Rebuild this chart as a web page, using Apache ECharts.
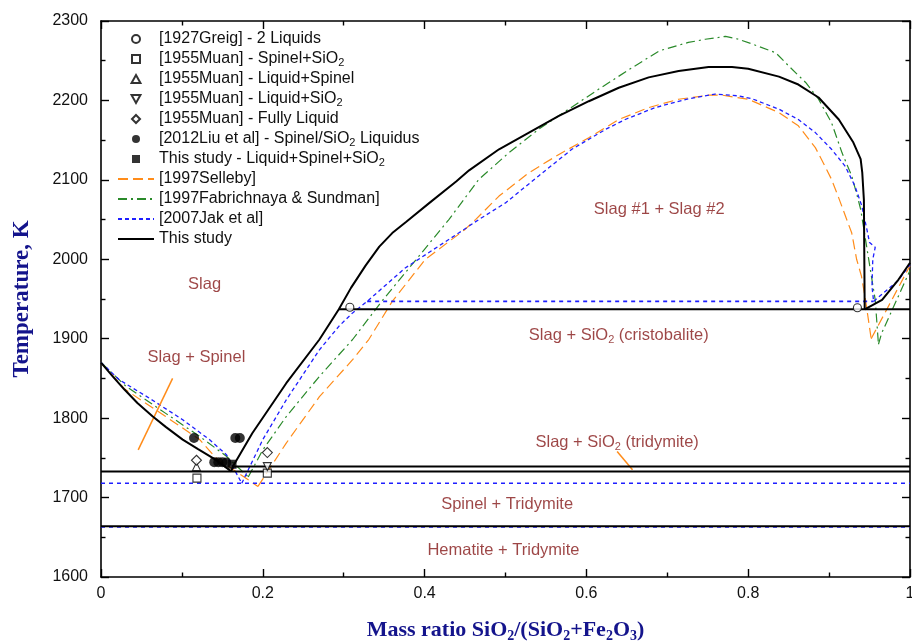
<!DOCTYPE html>
<html>
<head>
<meta charset="utf-8">
<script src="https://cdn.jsdelivr.net/npm/echarts@6/dist/echarts.min.js"></script>
<style>
  html, body { margin: 0; padding: 0; background: #fff; }
  #chart { width: 912px; height: 642px; }
</style>
</head>
<body>
<div id="chart"></div>
<script>
// Fe2O3–SiO2 phase diagram: calculated boundaries from several assessments plus experimental points.

// ---- This study (solid black) ----
const thisStudySpinelLiquidus = [[0,1870],[0.015,1852],[0.029,1836],[0.045,1819],[0.064,1802],[0.08,1789],[0.101,1773],[0.12,1761],[0.142,1747.5],[0.161,1733]];
const thisStudySilicaLiquidusGap = [[0.161,1733],[0.163,1739],[0.187,1781],[0.229,1844],[0.27,1899],[0.294,1937],[0.309,1964],[0.327,1992],[0.344,2016],[0.36,2033],[0.377,2047],[0.406,2071],[0.439,2098],[0.455,2112],[0.492,2138.5],[0.529,2159.5],[0.566,2180.5],[0.603,2199],[0.64,2216],[0.677,2229],[0.714,2237],[0.751,2242],[0.78,2242],[0.80,2240],[0.838,2230],[0.862,2220],[0.887,2203.7],[0.912,2176],[0.93,2147],[0.939,2126],[0.941,2109],[0.943,2075],[0.944,1937]];
const thisStudyCristobaliteLiquidus = [[0.944,1937],[0.9655,1949],[0.9858,1974.5],[1.0,1995.6]];
const thisStudyEutectic = [[0,1732.8],[1,1732.8]];
const thisStudyTridymiteLine = [[0.163,1739],[1,1739]];
const thisStudyMonotectic = [[0.294,1937],[1,1937]];
const thisStudyHematiteLine = [[0,1664],[1,1664]];

// ---- [2007Jak et al] (blue short dash) ----
const jakSpinelLiquidus = [[0,1870],[0.023,1848],[0.06,1825],[0.101,1798],[0.134,1773],[0.155,1754],[0.174,1718]];
const jakSilicaLiquidusGap = [[0.174,1718],[0.2,1773],[0.229,1823],[0.27,1886],[0.294,1915.6],[0.311,1932.5],[0.329,1947],[0.376,1989],[0.442,2033],[0.467,2050],[0.5,2071],[0.541,2105],[0.582,2138.5],[0.624,2163.7],[0.648,2176],[0.685,2191],[0.726,2202],[0.759,2208],[0.788,2205.7],[0.805,2202],[0.838,2189],[0.862,2176],[0.883,2159.5],[0.903,2138.5],[0.92,2117],[0.932,2092],[0.9405,2067],[0.9467,2037.6],[0.95,2021],[0.957,2015],[0.954,2000],[0.953,1966],[0.955,1947]];
const jakCristobaliteLiquidus = [[0.955,1947],[0.985,1973],[1.0,1993]];
const jakMonotectic = [[0.329,1947],[0.955,1947]];
const jakEutectic = [[0,1718],[1,1718]];
const jakHematiteLine = [[0,1663],[1,1663]];

// ---- [1997Fabrichnaya & Sundman] (green dash-dot) ----
const fabSpinelLiquidus = [[0,1870],[0.031,1840],[0.08,1806],[0.122,1777],[0.155,1752],[0.182,1726]];
const fabSilicaLiquidusGap = [[0.182,1726],[0.2,1760],[0.229,1802],[0.27,1852.6],[0.296,1882],[0.311,1899],[0.347,1947],[0.393,2004],[0.43,2050],[0.467,2100.6],[0.504,2134],[0.541,2163.7],[0.578,2189],[0.615,2214],[0.653,2239],[0.69,2262.4],[0.726,2273],[0.747,2277],[0.772,2280.6],[0.788,2277],[0.805,2271],[0.834,2260],[0.85,2243.5],[0.871,2222.6],[0.887,2201.5],[0.903,2172],[0.916,2134],[0.928,2105],[0.936,2075],[0.939,2063],[0.957,1949],[0.961,1893]];
const fabCristobaliteLiquidus = [[0.961,1893],[0.965,1907],[1.0,1986]];

// ---- [1997Selleby] (orange long dash) ----
const sellebySpinelLiquidus = [[0,1870],[0.03,1836],[0.08,1802],[0.122,1773],[0.142,1750],[0.194,1714]];
const sellebySilicaLiquidusGap = [[0.194,1714],[0.229,1768.6],[0.27,1827],[0.311,1873.6],[0.331,1899],[0.36,1947],[0.401,2000],[0.45,2037.6],[0.463,2050],[0.492,2079.6],[0.529,2109],[0.566,2132],[0.603,2153],[0.64,2176],[0.677,2191],[0.714,2201.5],[0.751,2206.6],[0.768,2206.6],[0.8,2201.5],[0.838,2184.7],[0.862,2168],[0.883,2140.6],[0.895,2117],[0.903,2100.6],[0.912,2077],[0.928,2033],[0.934,2000],[0.94,1978.7],[0.945,1949],[0.952,1900]];
const sellebyCristobaliteLiquidus = [[0.952,1900],[0.969,1932.5],[1.0,1992]];

// ---- Experimental points ----
const greig2Liquids = [[0.3076,1939.6],[0.935,1939]];
const muanSpinelSilica = [[0.1186,1724.5],[0.2056,1730.8]];
const muanLiquidSpinel = [[0.118,1739]];
const muanLiquidSilica = [[0.2056,1739]];
const muanFullyLiquid = [[0.118,1747],[0.2056,1756.7]];
const liuLiquidus = [[0.115,1775],[0.166,1775],[0.1716,1775],[0.14,1744.6],[0.145,1744.6],[0.15,1744.6],[0.155,1744]];
const thisStudyThreePhase = [[0.162,1742]];

// ---- Leader lines from region labels ----
const spinelLeader = [[0.046,1760],[0.0885,1850]];
const tridymiteLeader = [[0.638,1758],[0.657,1735]];

// ---- Region labels ----
const regionLabels = [
  { name: 'Slag', value: [0.128, 1968] },
  { name: 'Slag + Spinel', value: [0.118, 1876] },
  { name: 'Slag #1 + Slag #2', value: [0.69, 2063] },
  { name: 'Slag + SiO2 (cristobalite)', value: [0.64, 1904] },
  { name: 'Slag + SiO2 (tridymite)', value: [0.638, 1770] },
  { name: 'Spinel + Tridymite', value: [0.502, 1691] },
  { name: 'Hematite + Tridymite', value: [0.4975, 1633] }
];

const COLORS = { black: '#000000', blue: '#1f1fff', green: '#2a8a2a', orange: '#ff8c1a', region: '#851818', axisTitle: '#14148c' };
const SANS = 'Liberation Sans, Arial, sans-serif';
const SERIF = 'Liberation Serif, Times New Roman, serif';

// Marker outlines as paths so they keep their proportions in the legend too
const SQUARE = 'path://M0,0L10,0L10,10L0,10Z';
const TRIANGLE_UP = 'path://M5,0L10,9L0,9Z';
const TRIANGLE_DOWN = 'path://M0,0L10,0L5,9Z';
const DIAMOND = 'path://M5,0L10,5L5,10L0,5Z';

const legendEntries = [
  { name: '[1927Greig] - 2 Liquids', icon: 'circle' },
  { name: '[1955Muan] - Spinel+SiO2', icon: SQUARE },
  { name: '[1955Muan] - Liquid+Spinel', icon: TRIANGLE_UP },
  { name: '[1955Muan] - Liquid+SiO2', icon: TRIANGLE_DOWN },
  { name: '[1955Muan] - Fully Liquid', icon: DIAMOND },
  { name: '[2012Liu et al] - Spinel/SiO2 Liquidus', icon: 'circle' },
  { name: 'This study - Liquid+Spinel+SiO2', icon: SQUARE },
  { name: '[1997Selleby]' },
  { name: '[1997Fabrichnaya & Sundman]' },
  { name: '[2007Jak et al]' },
  { name: 'This study' }
];

function lineSeries(name, data, color, width, dash, z) {
  return {
    type: 'line', name: name, data: data, symbol: 'none', silent: true,
    lineStyle: { color: color, width: width, type: dash },
    itemStyle: { color: 'rgba(0,0,0,0)', borderWidth: 0, opacity: 0 },
    z: z || 2, animation: false
  };
}
function markerSeries(name, data, symbol, size, filled) {
  return {
    type: 'scatter', name: name, data: data, symbol: symbol, symbolSize: size,
    silent: true, z: 5,
    itemStyle: filled ? { color: '#000' } : { color: '#fff', borderColor: '#000', borderWidth: 1.1 }
  };
}

const orangeDash = [10, 5];
const greenDash = [9, 4, 2, 4];
const blueDash = [4, 3];

const series = [
  lineSeries('[1997Selleby]', sellebySpinelLiquidus, COLORS.orange, 1.2, orangeDash),
  lineSeries('[1997Selleby]', sellebySilicaLiquidusGap, COLORS.orange, 1.2, orangeDash),
  lineSeries('[1997Selleby]', sellebyCristobaliteLiquidus, COLORS.orange, 1.2, orangeDash),
  lineSeries('[1997Fabrichnaya & Sundman]', fabSpinelLiquidus, COLORS.green, 1.2, greenDash),
  lineSeries('[1997Fabrichnaya & Sundman]', fabSilicaLiquidusGap, COLORS.green, 1.2, greenDash),
  lineSeries('[1997Fabrichnaya & Sundman]', fabCristobaliteLiquidus, COLORS.green, 1.2, greenDash),
  lineSeries('[2007Jak et al]', jakSpinelLiquidus, COLORS.blue, 1.3, blueDash),
  lineSeries('[2007Jak et al]', jakSilicaLiquidusGap, COLORS.blue, 1.3, blueDash),
  lineSeries('[2007Jak et al]', jakCristobaliteLiquidus, COLORS.blue, 1.3, blueDash),
  lineSeries('[2007Jak et al]', jakMonotectic, COLORS.blue, 1.6, [4, 4]),
  lineSeries('[2007Jak et al]', jakEutectic, COLORS.blue, 1.6, [4, 4]),
  lineSeries('[2007Jak et al]', jakHematiteLine, COLORS.blue, 1.6, [4, 4]),
  lineSeries('This study', thisStudySpinelLiquidus, COLORS.black, 2, 'solid', 3),
  lineSeries('This study', thisStudySilicaLiquidusGap, COLORS.black, 2, 'solid', 3),
  lineSeries('This study', thisStudyCristobaliteLiquidus, COLORS.black, 2, 'solid', 3),
  lineSeries('This study', thisStudyEutectic, COLORS.black, 2, 'solid', 3),
  lineSeries('This study', thisStudyTridymiteLine, COLORS.black, 2, 'solid', 3),
  lineSeries('This study', thisStudyMonotectic, COLORS.black, 2, 'solid', 3),
  lineSeries('This study', thisStudyHematiteLine, COLORS.black, 2, 'solid', 3),
  lineSeries('leader-spinel', spinelLeader, COLORS.orange, 1.5, 'solid'),
  lineSeries('leader-tridymite', tridymiteLeader, COLORS.orange, 1.5, 'solid'),
  markerSeries('[1927Greig] - 2 Liquids', greig2Liquids, 'circle', 8, false),
  markerSeries('[1955Muan] - Spinel+SiO2', muanSpinelSilica, SQUARE, 8, false),
  markerSeries('[1955Muan] - Liquid+Spinel', muanLiquidSpinel, TRIANGLE_UP, 8, false),
  markerSeries('[1955Muan] - Liquid+SiO2', muanLiquidSilica, TRIANGLE_DOWN, 8, false),
  markerSeries('[1955Muan] - Fully Liquid', muanFullyLiquid, DIAMOND, 10, false),
  markerSeries('[2012Liu et al] - Spinel/SiO2 Liquidus', liuLiquidus, 'circle', 10, true),
  markerSeries('This study - Liquid+Spinel+SiO2', thisStudyThreePhase, SQUARE, 9, true),
  {
    type: 'scatter', name: 'region-labels', data: regionLabels, symbolSize: 1, silent: true, z: 6,
    itemStyle: { color: 'rgba(0,0,0,0)' },
    label: {
      show: true, position: 'inside', color: COLORS.region, fontFamily: SANS, fontSize: 16.5, lineHeight: 20,
      formatter: p => p.name.replace(/SiO2/g, 'SiO{sub|2}'),
      rich: { sub: { fontSize: 11, lineHeight: 11, verticalAlign: 'bottom', color: COLORS.region, fontFamily: SANS } }
    }
  }
];

function frameAxis(extra) {
  return Object.assign({
    axisLine: { show: true, onZero: false, lineStyle: { color: '#000', width: 1.6 } },
    axisTick: { show: true, inside: true, length: 8, lineStyle: { color: '#000', width: 1.4 } },
    minorTick: { show: true, splitNumber: 2, length: 4.5, lineStyle: { color: '#000', width: 1.4 } },
    splitLine: { show: false },
    minorSplitLine: { show: false }
  }, extra);
}

const option = {
  animation: false,
  backgroundColor: '#fff',
  grid: { left: 101, right: 2, top: 21, bottom: 65, containLabel: false, outerBoundsMode: 'none' },
  legend: {
    data: legendEntries, orient: 'vertical', left: 117, top: 30, padding: 0,
    itemWidth: 36, itemHeight: 8, itemGap: 2, selectedMode: false, symbolKeepAspect: true,
    formatter: n => n.replace(/SiO2/g, 'SiO{sub|2}'),
    textStyle: {
      fontFamily: SANS, fontSize: 16, color: '#111', lineHeight: 18,
      rich: { sub: { fontSize: 11, lineHeight: 10, verticalAlign: 'bottom', fontFamily: SANS, color: '#111' } }
    }
  },
  xAxis: [
    frameAxis({
      type: 'value', position: 'bottom', min: 0, max: 1, interval: 0.2,
      axisLabel: { fontFamily: SANS, fontSize: 16, color: '#111', margin: 9 },
      name: 'Mass ratio SiO{s|2}/(SiO{s|2}+Fe{s|2}O{s|3})', nameLocation: 'middle', nameGap: 41,
      nameTextStyle: {
        fontFamily: SERIF, fontWeight: 'bold', fontSize: 22, color: COLORS.axisTitle, lineHeight: 25,
        rich: { s: { fontFamily: SERIF, fontWeight: 'bold', fontSize: 14, lineHeight: 14, verticalAlign: 'bottom', color: COLORS.axisTitle } }
      }
    }),
    frameAxis({ type: 'value', position: 'top', min: 0, max: 1, interval: 0.2, axisLabel: { show: false } })
  ],
  yAxis: [
    frameAxis({
      type: 'value', position: 'left', min: 1600, max: 2300, interval: 100,
      axisLabel: { fontFamily: SANS, fontSize: 16, color: '#111', margin: 13, formatter: v => String(v) },
      name: 'Temperature, K', nameLocation: 'middle', nameGap: 67, nameRotate: 90,
      nameTextStyle: { fontFamily: SERIF, fontWeight: 'bold', fontSize: 23, color: COLORS.axisTitle }
    }),
    frameAxis({ type: 'value', position: 'right', min: 1600, max: 2300, interval: 100, axisLabel: { show: false } })
  ],
  series: series
};

const chart = echarts.init(document.getElementById('chart'), null, { renderer: 'canvas' });
chart.setOption(option);
</script>
</body>
</html>
